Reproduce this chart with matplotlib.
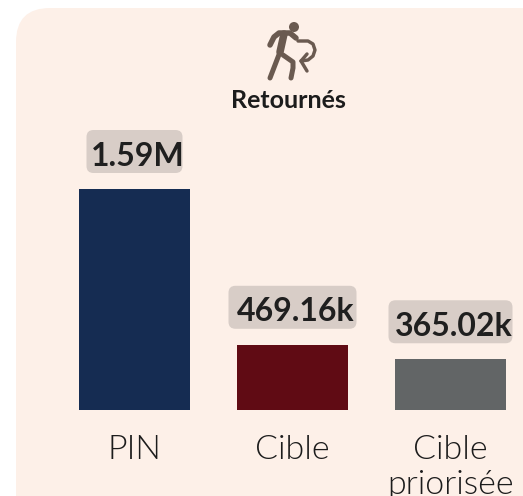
#!/usr/bin/python3
## Retournes - bar chart with a value badge above each bar

import matplotlib
matplotlib.use('Agg')
import matplotlib.pyplot as plt
from matplotlib.patches import FancyBboxPatch, Circle
from matplotlib.transforms import Affine2D

# Data
categories = ['PIN', 'Cible', 'Cible\npriorisée']
values = [1590000, 469160, 365020]
value_labels = ['1.59M', '469.16k', '365.02k']
bar_colors = ['#152C52', '#600B14', '#626566']
title = 'Retournés'

W, H = 523, 496
PER_PX = 1590000 / 221.0   # value for one pixel of bar height

fig = plt.figure(figsize=(W / 100, H / 100), dpi=100, facecolor='white')
# everything decorative is placed in pixels, origin at top left
px = Affine2D().scale(1, -1).translate(0, H)

## panel behind the chart
panel = FancyBboxPatch((16 + 34, 8 + 34), W + 60, H + 60, boxstyle='round,pad=34,rounding_size=34',
                       transform=px, fc='#FDF0E8', ec='none', zorder=-1)
fig.add_artist(panel)

## axes: bottom at the bar base, top well above the tallest bar
ax = fig.add_axes([0, (H - 410) / H, 1, 290 / H])
ax.patch.set_alpha(0)
for side in ax.spines:
    ax.spines[side].set_visible(False)
ax.set_xlim(-134.5 / 158, (W - 134.5) / 158)
ax.set_ylim(0, 290 * PER_PX)
ax.set_yticks([])

x_pos = list(range(len(categories)))
ax.bar(x_pos, values, width=111 / 158, color=bar_colors)
ax.set_xticks(x_pos)
ax.set_xticklabels(categories, fontfamily='Lato', fontweight=300, fontsize=24.5, color='#1c1c1c',
                   linespacing=1.22)
ax.tick_params(axis='x', length=0, pad=18)

## value badges
badge_widths = [96, 128, 124]
for i in x_pos:
    x_c, y_top = ax.transData.transform((i, values[i]))
    y_top = H - y_top
    w = badge_widths[i]
    badge = FancyBboxPatch((x_c - w / 2 + 7, y_top - 16 - 43 + 7), w - 14, 43 - 14,
                           boxstyle='round,pad=7,rounding_size=7', transform=px,
                           fc='#D8CDC7', ec='none', clip_on=False)
    ax.add_patch(badge)
    ax.annotate(value_labels[i], (i, values[i]), xytext=(3, 33), textcoords='offset pixels',
                ha='center', va='center', fontname='Lato', fontweight='bold',
                fontsize=23, color='#1f1f1f', annotation_clip=False)

## title and icon
fig.text(288 / W, 1 - 101 / H, title, ha='center', va='center', fontname='Lato',
         fontweight='bold', fontsize=18, color='#1c1c1c')

icon = '#6A5A50'
strokes = [
    ([270, 274, 279, 290, 296], [45, 37, 33, 33, 38], 5.5),   # arms
    ([284, 280], [34, 52], 7.5),                              # torso
    ([280, 275, 270], [52, 65, 78], 5),                       # left leg
    ([283, 293, 293, 291], [55, 62, 68, 78], 5),              # right leg
    ([298, 308, 313, 315, 313, 308, 301], [41, 41, 44, 50, 56, 60, 61], 3.4),  # arrow
    ([307, 301, 307], [54, 61, 71], 3.4),                     # arrow head
]
for xs, ys, lw in strokes:
    line = plt.Line2D(xs, ys, lw=lw * 0.72, color=icon, transform=px, solid_capstyle='round',
                      solid_joinstyle='round')
    fig.add_artist(line)
fig.add_artist(Circle((294, 27), 5, transform=px, fc=icon, ec='none'))

fig.savefig('out.png', dpi=100, facecolor='white')
